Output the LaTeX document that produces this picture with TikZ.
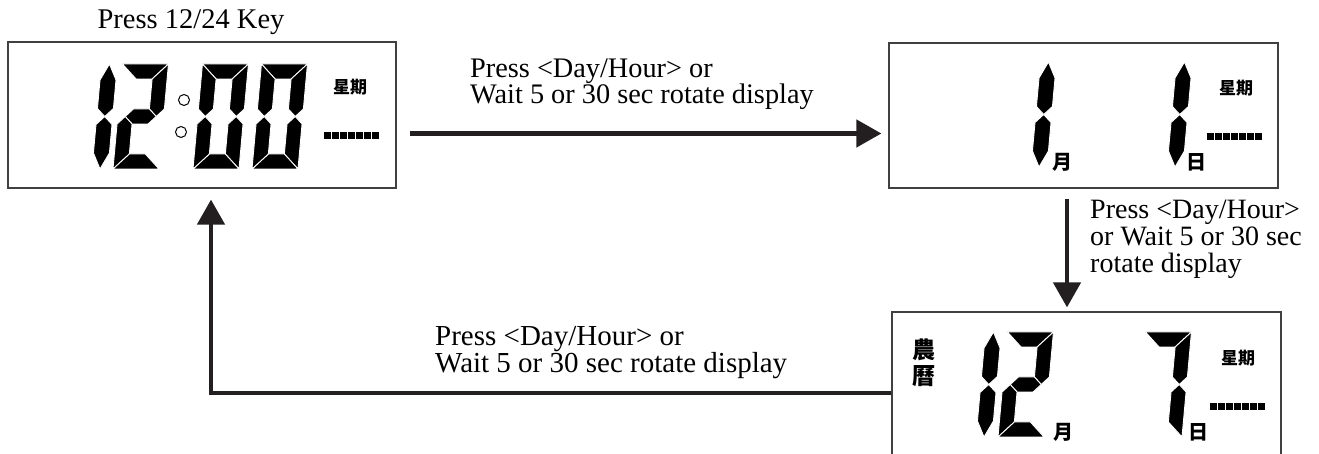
\documentclass[tikz,border=0pt]{standalone}
\usepackage{fontspec}
\setmainfont{Liberation Serif}
\newfontfamily\cjkf{Noto Sans CJK TC}
\usetikzlibrary{arrows.meta,calc}
\definecolor{ink}{RGB}{35,31,32}
\newcommand\lcdW{46}
\newcommand\lcdH{105}
\newcommand\lcdT{15}
\newcommand\lcdM{52.5}
\newcommand\tightlines{\lineskiplimit=-100pt\relax}
\newcommand\SegA{\path[seg] (0,\lcdH) -- (\lcdW,\lcdH) -- ({\lcdW-\lcdT},{\lcdH-\lcdT}) -- (\lcdT,{\lcdH-\lcdT}) -- cycle;}
\newcommand\SegB{\path[seg] (\lcdW,\lcdH) -- ({\lcdW-\lcdT},{\lcdH-\lcdT}) -- ({\lcdW-\lcdT},{\lcdM+\lcdT/2}) -- ({\lcdW-\lcdT/2},\lcdM) -- (\lcdW,{\lcdM+\lcdT/2}) -- cycle;}
\newcommand\SegC{\path[seg] (\lcdW,0) -- ({\lcdW-\lcdT},\lcdT) -- ({\lcdW-\lcdT},{\lcdM-\lcdT/2}) -- ({\lcdW-\lcdT/2},\lcdM) -- (\lcdW,{\lcdM-\lcdT/2}) -- cycle;}
\newcommand\SegD{\path[seg] (0,0) -- (\lcdW,0) -- ({\lcdW-\lcdT},\lcdT) -- (\lcdT,\lcdT) -- cycle;}
\newcommand\SegE{\path[seg] (0,0) -- (\lcdT,\lcdT) -- (\lcdT,{\lcdM-\lcdT/2}) -- ({\lcdT/2},\lcdM) -- (0,{\lcdM-\lcdT/2}) -- cycle;}
\newcommand\SegF{\path[seg] (0,\lcdH) -- (\lcdT,{\lcdH-\lcdT}) -- (\lcdT,{\lcdM+\lcdT/2}) -- ({\lcdT/2},\lcdM) -- (0,{\lcdM+\lcdT/2}) -- cycle;}
\newcommand\SegG{\path[seg] ({\lcdT/2},\lcdM) -- (\lcdT,{\lcdM+\lcdT/2}) -- ({\lcdW-\lcdT},{\lcdM+\lcdT/2}) -- ({\lcdW-\lcdT/2},\lcdM) -- ({\lcdW-\lcdT},{\lcdM-\lcdT/2}) -- (\lcdT,{\lcdM-\lcdT/2}) -- cycle;}
\newcommand\OneT{16}
\newcommand\SegOneU{\path[seg] ({\OneT/2},\lcdH) -- (\OneT,{\lcdH-\OneT}) -- (\OneT,{\lcdM+\OneT/2}) -- ({\OneT/2},\lcdM) -- (0,{\lcdM+\OneT/2}) -- (0,{\lcdH-\OneT}) -- cycle;}
\newcommand\SegOneL{\path[seg] ({\OneT/2},0) -- (\OneT,\OneT) -- (\OneT,{\lcdM-\OneT/2}) -- ({\OneT/2},\lcdM) -- (0,{\lcdM-\OneT/2}) -- (0,\OneT) -- cycle;}
\newcommand\DashRow[2]{\foreach \i in {0,...,6}{\path[dashsq] ({#1+\i*8},{#2-3.5}) rectangle ++(7,7);}}
\begin{document}
\begin{tikzpicture}[x=1pt,y=1pt,
  seg/.style={fill=black,draw=white,line width=0.9pt,line join=bevel},
  digit/.style={xslant=0.09},
  dashsq/.style={fill=black},
  lcdbox/.style={draw=black!75,line width=1.2pt,inner sep=0pt},
  arr/.style={draw=ink,line width=4.5pt,-{Triangle[length=25pt,width=27pt]}},
  lbl/.style={align=left,inner sep=0pt,anchor=base west},
  cjk/.style={inner sep=0pt,font=\fontsize{#1}{#1}\cjkf\bfseries\selectfont},
  colon/.style={draw=black,line width=1pt,fill=white}]
\path[use as bounding box] (0,0) rectangle (1319,454);
\clip (0,0) rectangle (1319,454);
% boxes
\node[lcdbox,minimum width=388pt,minimum height=146pt] (b1) at (202,339) {};
\node[lcdbox,minimum width=389pt,minimum height=145pt] (b2) at (1083.5,338.5) {};
\node[lcdbox,minimum width=389pt,minimum height=162pt] (b3) at (1086.5,61) {};
\node[anchor=base,inner sep=0pt,font=\fontsize{28.5}{28.5}\selectfont] (title) at (191,425) {Press 12/24 Key};
% box 1 digits 12:00
\begin{scope}[shift={(92,285)},digit] \SegOneU\SegOneL \end{scope}
\begin{scope}[shift={(113,285)},digit] \SegA\SegB\SegG\SegE\SegD \end{scope}
\begin{scope}[shift={(193,285)},digit] \SegA\SegB\SegC\SegD\SegE\SegF \end{scope}
\begin{scope}[shift={(252,285)},digit] \SegA\SegB\SegC\SegD\SegE\SegF \end{scope}
\draw[colon] (184,354) circle (5.5);
\draw[colon] (181,322) circle (5.5);
\node[cjk=17] (w1) at (350,367) {星期};
\DashRow{324}{318.5}
% box 2 digits 1 1
\begin{scope}[shift={(1031,287)},digit] \SegOneU\SegOneL \end{scope}
\begin{scope}[shift={(1167,287)},digit] \SegOneU\SegOneL \end{scope}
\node[cjk=20] (m2) at (1062,292) {月};
\node[cjk=20] (d2) at (1196,292) {日};
\node[cjk=17] (w2) at (1236,366) {星期};
\DashRow{1207}{317.5}
% box 3 digits 12 7
\node[cjk=23] (n3) at (924,104) {農};
\node[cjk=23] (l3) at (924,78) {曆};
\begin{scope}[shift={(976,17)},digit] \SegOneU\SegOneL \end{scope}
\begin{scope}[shift={(998,17)},digit] \SegA\SegB\SegG\SegE\SegD \end{scope}
\begin{scope}[shift={(1136,17)},digit] \SegA\SegB\SegC \end{scope}
\node[cjk=20] (m3) at (1063,22) {月};
\node[cjk=20] (d3) at (1198,22) {日};
\node[cjk=17] (w3) at (1238,96) {星期};
\DashRow{1210}{47.5}
% arrows
\draw[arr] ([xshift=13pt,yshift=-18.5pt]b1.east) -- ([xshift=-7pt,yshift=-18pt]b2.west);
\draw[arr] ([xshift=-16.5pt,yshift=-10pt]b2.south) -- ([xshift=-19.5pt,yshift=4pt]b3.north);
\draw[arr] (b3.west) -| ([xshift=9pt,yshift=-11pt]b1.south);
% labels (anchor = baseline of last line)
\node[lbl,font=\fontsize{28.3}{26}\selectfont\tightlines] (t1) at (470,350) {Press <Day/Hour> or\\Wait 5 or 30 sec rotate display};
\node[lbl,font=\fontsize{28}{27}\selectfont\tightlines] (t2) at (1090,181) {Press <Day/Hour>\\or Wait 5 or 30 sec\\rotate display};
\node[lbl,font=\fontsize{29}{27}\selectfont\tightlines] (t3) at (435,81) {Press <Day/Hour> or\\Wait 5 or 30 sec rotate display};
\end{tikzpicture}
\end{document}
